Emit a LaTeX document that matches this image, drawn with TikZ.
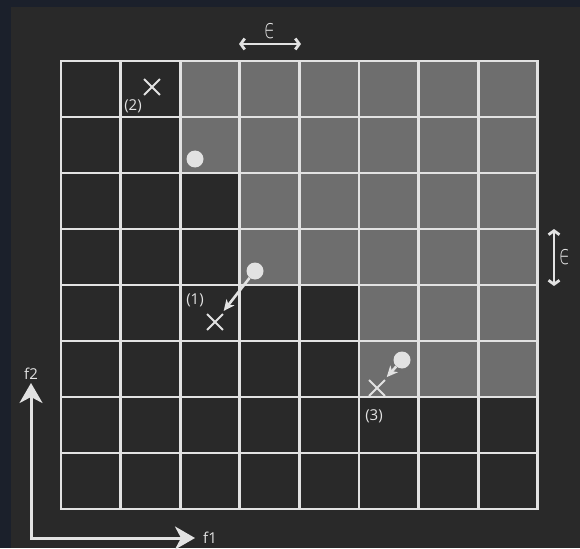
\documentclass[tikz,border=0pt]{standalone}
\usepackage{fontspec}
\usepackage{graphicx}
\setmainfont{Open Sans}
\newfontfamily\symfont{DejaVu Sans ExtraLight}
\usepackage{tikz}
\usetikzlibrary{arrows.meta,positioning,shapes.misc}
\definecolor{frame}{HTML}{1B202B}
\definecolor{canvas}{HTML}{292929}
\definecolor{cellgray}{HTML}{6E6E6E}
\definecolor{lineclr}{HTML}{E2E2E2}
\newcommand{\cw}{59.6}
\newcommand{\ch}{56}
\newcommand{\eps}{{\fontsize{20}{22}\symfont\scalebox{0.9}[1.35]{ϵ}}}

\begin{document}
\begin{tikzpicture}[
  x=1pt, y=-1pt,
  font=\fontsize{15}{17}\selectfont,
  node distance=2pt and 2pt,
  gridline/.style={draw=lineclr, line width=2.8pt, line cap=rect},
  pt/.style={circle, fill=lineclr, inner sep=0pt, minimum size=17pt},
  sol/.style={cross out, draw=lineclr, line width=1.8pt, inner sep=0pt,
    minimum size=14pt},
  lbl/.style={text=lineclr, inner sep=1pt},
  move/.style={-{Stealth[length=11pt, width=10pt, inset=3pt]}, draw=lineclr,
    line width=2.6pt, shorten >=4pt},
  span/.style={{Straight Barb[length=4pt, width=11pt]}-{Straight Barb[length=4pt, width=11pt]},
    draw=lineclr, line width=2.8pt},
  axis/.style={{Stealth[length=20pt, width=23pt, inset=6pt]}-{Stealth[length=20pt, width=23pt, inset=6pt]},
    draw=lineclr, line width=3pt}
]
\useasboundingbox (0,0) rectangle (580,548);
\fill[frame] (0,0) rectangle (580,548);
\fill[canvas] (11,7) rectangle (580,548);

\foreach \r/\c in {0/2,1/2,2/3,3/3,4/5,5/5}
  \fill[cellgray] ({61+\c*\cw},{61+\r*\ch}) rectangle (538,{61+(\r+1)*\ch});
\foreach \i in {0,...,8} {
  \draw[gridline] ({61+\i*\cw},61) -- ({61+\i*\cw},509);
  \draw[gridline] (61,{61+\i*\ch}) -- (538,{61+\i*\ch});
}

\node[pt] (pa) at (195,159) {};
\node[pt] (pb) at (255,271) {};
\node[pt] (pc) at (402,360) {};
\node[sol] (x2) at (152,87) {};
\node[sol] (x1) at (215,322) {};
\node[sol] (x3) at (377,388) {};
\node[lbl] (n2) at (133,106) {(2)};
\node[lbl] (n1) at (195,300) {(1)};
\node[lbl] (n3) at (374,416) {(3)};
\draw[move] (pb) -- (x1);
\draw[move] (pc) -- (x3);

\coordinate (ha) at (239,44);
\coordinate (hb) at (301,44);
\coordinate (va) at (554,229);
\coordinate (vb) at (554,286);
\draw[span] (ha) -- (hb);
\draw[span] (va) -- (vb);
\node[lbl] (eh) at (270,31) {\eps};
\node[lbl] (ev) at (565,257) {\eps};

\coordinate (origin) at (31,538);
\coordinate (ytip) at (31,383);
\coordinate (xtip) at (195,538);
\draw[axis] (ytip) -- (origin) -- (xtip);
\node[lbl, above=of ytip] (f2) {f2};
\node[lbl, right=7pt of xtip] (f1) {f1};
\end{tikzpicture}
\end{document}
